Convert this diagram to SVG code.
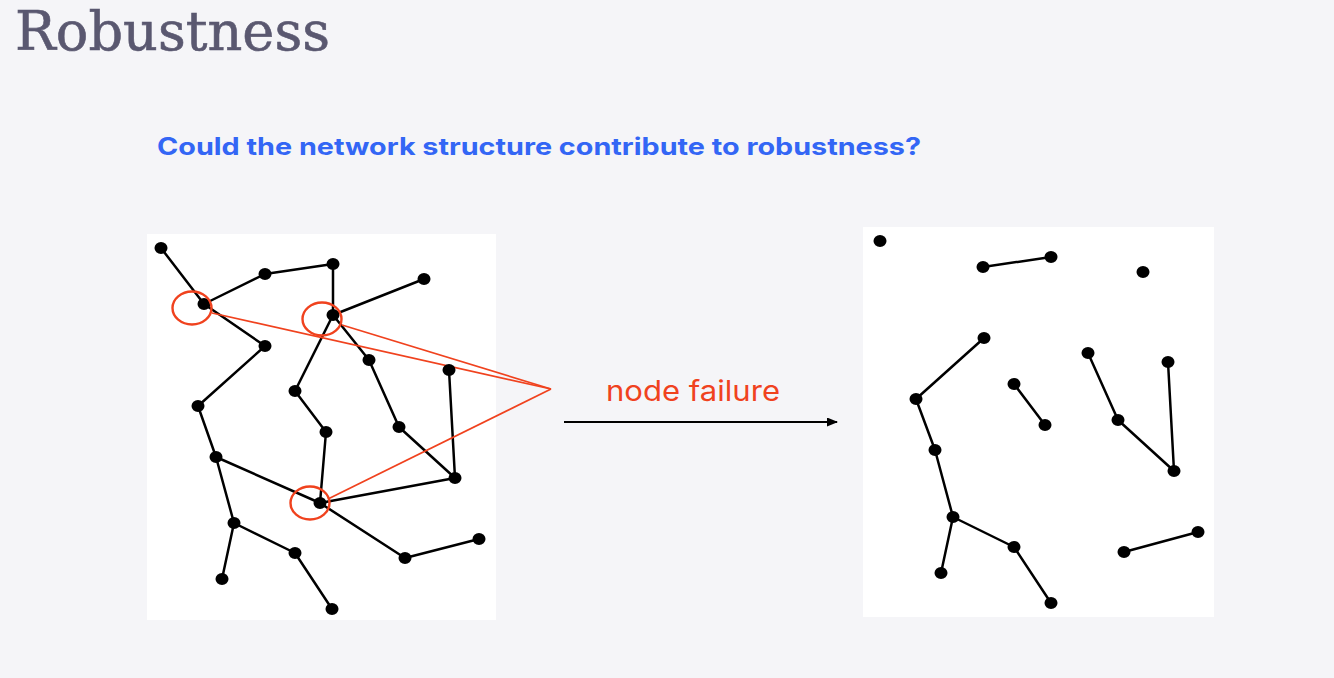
<svg xmlns="http://www.w3.org/2000/svg" width="1334" height="678" viewBox="0 0 1334 678">
<defs>
<style>
.bg{fill:#f5f5f8}
.panel{fill:#ffffff}
.e{stroke:#000;stroke-width:2.5;fill:none;stroke-linecap:round}
.n{fill:#000}
.hl{fill:none;stroke:#f0421e;stroke-width:2.4}
.pt{stroke:#f0421e;stroke-width:1.7;fill:none}
.title{font-family:"DejaVu Serif","Liberation Serif",serif;font-size:55px;fill:#5a5870;stroke:#5a5870;stroke-width:0.6}
.q{font-family:Inter,"Liberation Sans",sans-serif;font-weight:bold;font-size:24px;fill:#3366f5}
.lbl{font-family:Inter,"Liberation Sans",sans-serif;font-size:28px;fill:#f0421e}
</style>
<marker id="ah" markerWidth="11" markerHeight="9" refX="10" refY="4.5" orient="auto" markerUnits="userSpaceOnUse">
<path d="M0,0 L11,4.5 L0,9 Z" fill="#000"/>
</marker>
</defs>
<rect class="bg" x="0" y="0" width="1334" height="678"/>
<text class="title" x="15" y="50" textLength="315" lengthAdjust="spacingAndGlyphs">Robustness</text>
<text class="q" x="157" y="155" textLength="764" lengthAdjust="spacingAndGlyphs">Could the network structure contribute to robustness?</text>

<rect class="panel" x="147" y="234" width="349" height="386"/>
<rect class="panel" x="863" y="227" width="351" height="390"/>

<g id="connectors">
<g id="left-edges">
<line class="e" x1="161" y1="248" x2="204" y2="304"/>
<line class="e" x1="204" y1="304" x2="265" y2="274"/>
<line class="e" x1="265" y1="274" x2="333" y2="264"/>
<line class="e" x1="333" y1="264" x2="333" y2="315"/>
<line class="e" x1="333" y1="315" x2="424" y2="279"/>
<line class="e" x1="204" y1="304" x2="265" y2="346"/>
<line class="e" x1="265" y1="346" x2="198" y2="406"/>
<line class="e" x1="198" y1="406" x2="216" y2="457"/>
<line class="e" x1="333" y1="315" x2="295" y2="391"/>
<line class="e" x1="295" y1="391" x2="326" y2="432"/>
<line class="e" x1="326" y1="432" x2="320" y2="503"/>
<line class="e" x1="333" y1="315" x2="369" y2="360"/>
<line class="e" x1="369" y1="360" x2="399" y2="427"/>
<line class="e" x1="399" y1="427" x2="455" y2="478"/>
<line class="e" x1="449" y1="370" x2="455" y2="478"/>
<line class="e" x1="320" y1="503" x2="455" y2="478"/>
<line class="e" x1="216" y1="457" x2="320" y2="503"/>
<line class="e" x1="320" y1="503" x2="405" y2="558"/>
<line class="e" x1="405" y1="558" x2="479" y2="539"/>
<line class="e" x1="216" y1="457" x2="234" y2="523"/>
<line class="e" x1="234" y1="523" x2="295" y2="553"/>
<line class="e" x1="295" y1="553" x2="332" y2="609"/>
<line class="e" x1="234" y1="523" x2="222" y2="579"/>
</g>
<g id="right-edges">
<line class="e" x1="983" y1="267" x2="1051" y2="257"/>
<line class="e" x1="984" y1="338" x2="916" y2="399"/>
<line class="e" x1="916" y1="399" x2="935" y2="450"/>
<line class="e" x1="935" y1="450" x2="953" y2="517"/>
<line class="e" x1="953" y1="517" x2="941" y2="573"/>
<line class="e" x1="953" y1="517" x2="1014" y2="547"/>
<line class="e" x1="1014" y1="547" x2="1051" y2="603"/>
<line class="e" x1="1014" y1="384" x2="1045" y2="425"/>
<line class="e" x1="1088" y1="353" x2="1118" y2="420"/>
<line class="e" x1="1118" y1="420" x2="1174" y2="471"/>
<line class="e" x1="1168" y1="362" x2="1174" y2="471"/>
<line class="e" x1="1124" y1="552" x2="1198" y2="532"/>
</g>
<g id="pointers">
<line class="pt" x1="212" y1="313" x2="551" y2="389"/>
<line class="pt" x1="342" y1="325" x2="551" y2="389"/>
<line class="pt" x1="328" y1="499" x2="551" y2="389"/>
</g>
<line id="failure-arrow" x1="564" y1="422" x2="837" y2="422" stroke="#000" stroke-width="2.2" marker-end="url(#ah)"/>
</g>

<g id="left-nodes">
<g id="l1"><ellipse class="n" cx="161" cy="248" rx="6.5" ry="6"/></g>
<g id="l2"><ellipse class="n" cx="204" cy="304" rx="6.5" ry="6"/></g>
<g id="l3"><ellipse class="n" cx="265" cy="274" rx="6.5" ry="6"/></g>
<g id="l4"><ellipse class="n" cx="333" cy="264" rx="6.5" ry="6"/></g>
<g id="l5"><ellipse class="n" cx="424" cy="279" rx="6.5" ry="6"/></g>
<g id="l6"><ellipse class="n" cx="333" cy="315" rx="6.5" ry="6"/></g>
<g id="l7"><ellipse class="n" cx="265" cy="346" rx="6.5" ry="6"/></g>
<g id="l8"><ellipse class="n" cx="369" cy="360" rx="6.5" ry="6"/></g>
<g id="l9"><ellipse class="n" cx="449" cy="370" rx="6.5" ry="6"/></g>
<g id="l10"><ellipse class="n" cx="198" cy="406" rx="6.5" ry="6"/></g>
<g id="l11"><ellipse class="n" cx="295" cy="391" rx="6.5" ry="6"/></g>
<g id="l12"><ellipse class="n" cx="326" cy="432" rx="6.5" ry="6"/></g>
<g id="l13"><ellipse class="n" cx="399" cy="427" rx="6.5" ry="6"/></g>
<g id="l14"><ellipse class="n" cx="216" cy="457" rx="6.5" ry="6"/></g>
<g id="l15"><ellipse class="n" cx="455" cy="478" rx="6.5" ry="6"/></g>
<g id="l16"><ellipse class="n" cx="320" cy="503" rx="6.5" ry="6"/></g>
<g id="l17"><ellipse class="n" cx="234" cy="523" rx="6.5" ry="6"/></g>
<g id="l18"><ellipse class="n" cx="405" cy="558" rx="6.5" ry="6"/></g>
<g id="l19"><ellipse class="n" cx="479" cy="539" rx="6.5" ry="6"/></g>
<g id="l20"><ellipse class="n" cx="295" cy="553" rx="6.5" ry="6"/></g>
<g id="l21"><ellipse class="n" cx="222" cy="579" rx="6.5" ry="6"/></g>
<g id="l22"><ellipse class="n" cx="332" cy="609" rx="6.5" ry="6"/></g>
</g>

<g id="failed-markers">
<ellipse class="hl" cx="192" cy="308" rx="19.5" ry="16.5"/>
<ellipse class="hl" cx="322" cy="319" rx="19.5" ry="16.5"/>
<ellipse class="hl" cx="310" cy="503" rx="19.5" ry="16.5"/>
</g>

<g id="right-nodes">
<g id="r1"><ellipse class="n" cx="880" cy="241" rx="6.5" ry="6"/></g>
<g id="r2"><ellipse class="n" cx="983" cy="267" rx="6.5" ry="6"/></g>
<g id="r3"><ellipse class="n" cx="1051" cy="257" rx="6.5" ry="6"/></g>
<g id="r4"><ellipse class="n" cx="1143" cy="272" rx="6.5" ry="6"/></g>
<g id="r5"><ellipse class="n" cx="984" cy="338" rx="6.5" ry="6"/></g>
<g id="r6"><ellipse class="n" cx="916" cy="399" rx="6.5" ry="6"/></g>
<g id="r7"><ellipse class="n" cx="935" cy="450" rx="6.5" ry="6"/></g>
<g id="r8"><ellipse class="n" cx="953" cy="517" rx="6.5" ry="6"/></g>
<g id="r9"><ellipse class="n" cx="941" cy="573" rx="6.5" ry="6"/></g>
<g id="r10"><ellipse class="n" cx="1014" cy="547" rx="6.5" ry="6"/></g>
<g id="r11"><ellipse class="n" cx="1051" cy="603" rx="6.5" ry="6"/></g>
<g id="r12"><ellipse class="n" cx="1014" cy="384" rx="6.5" ry="6"/></g>
<g id="r13"><ellipse class="n" cx="1045" cy="425" rx="6.5" ry="6"/></g>
<g id="r14"><ellipse class="n" cx="1088" cy="353" rx="6.5" ry="6"/></g>
<g id="r15"><ellipse class="n" cx="1118" cy="420" rx="6.5" ry="6"/></g>
<g id="r16"><ellipse class="n" cx="1168" cy="362" rx="6.5" ry="6"/></g>
<g id="r17"><ellipse class="n" cx="1174" cy="471" rx="6.5" ry="6"/></g>
<g id="r18"><ellipse class="n" cx="1124" cy="552" rx="6.5" ry="6"/></g>
<g id="r19"><ellipse class="n" cx="1198" cy="532" rx="6.5" ry="6"/></g>
</g>

<text class="lbl" x="606" y="401" textLength="174" lengthAdjust="spacingAndGlyphs">node failure</text>
</svg>
